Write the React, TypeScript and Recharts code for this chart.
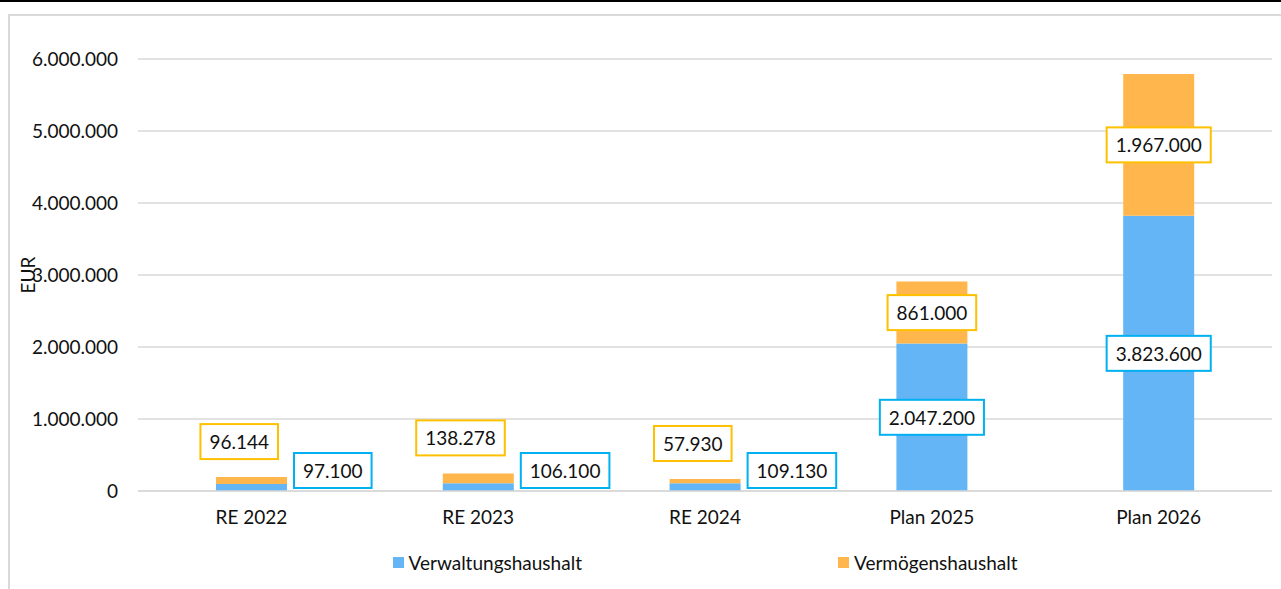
import React from 'react';
import { BarChart, Bar, XAxis, YAxis, CartesianGrid, LabelList } from 'recharts';

const categories = ['RE 2022', 'RE 2023', 'RE 2024', 'Plan 2025', 'Plan 2026'];
const verwaltungshaushalt = [97100, 106100, 109130, 2047200, 3823600];
const vermoegenshaushalt = [96144, 138278, 57930, 861000, 1967000];
const yTicks = [0, 1000000, 2000000, 3000000, 4000000, 5000000, 6000000];

const seriesNames = ['Verwaltungshaushalt', 'Vermögenshaushalt'];
const BLUE = '#64B5F6';
const ORANGE = '#FFB74D';
const BLUE_BORDER = '#00B0F0';
const ORANGE_BORDER = '#FFC000';
const FONT = 'Lato, "Open Sans", sans-serif';
const FS = 19;
const FW = 400;

const data = categories.map((c, i) => ({
  name: c,
  v: verwaltungshaushalt[i],
  m: vermoegenshaushalt[i],
}));

const fmt = (n: number) => String(Math.round(n)).replace(/\B(?=(\d{3})+(?!\d))/g, '.');

let ctx: CanvasRenderingContext2D | null = null;
function measure(t: string) {
  if (!ctx) {
    const c = document.createElement('canvas');
    ctx = c.getContext('2d');
  }
  if (!ctx) return t.length * FS * 0.55;
  ctx.font = `${FW} ${FS}px Lato`;
  return ctx.measureText(t).width;
}

function Box({ cx, cy, text, border }: { cx: number; cy: number; text: string; border: string }) {
  const w = measure(text) + 18;
  const h = 35;
  return (
    <g>
      <rect x={cx - w / 2} y={cy - h / 2} width={w} height={h} fill="#fff" stroke={border} strokeWidth={2} />
      <text x={cx} y={cy} textAnchor="middle" dominantBaseline="central" fontFamily={FONT} fontSize={FS} fontWeight={FW} fill="#111">
        {text}
      </text>
    </g>
  );
}

const blueLabel = (props: any) => {
  const { x, y, width, height, value } = props;
  const text = fmt(Number(value));
  if (height > 40) {
    return <Box cx={x + width / 2} cy={y + height / 2} text={text} border={BLUE_BORDER} />;
  }
  const w = measure(text) + 18;
  const left = x + width + 7;
  const bottom = y + height - 3;
  return <Box cx={left + w / 2} cy={bottom - 17.5} text={text} border={BLUE_BORDER} />;
};

const orangeLabel = (props: any) => {
  const { x, y, width, height, value } = props;
  const text = fmt(Number(value));
  if (height > 40) {
    return <Box cx={x + width / 2} cy={y + height / 2} text={text} border={ORANGE_BORDER} />;
  }
  const w = measure(text) + 18;
  const right = x + width - 9;
  const bottom = y - 18;
  return <Box cx={right - w / 2} cy={bottom - 17.5} text={text} border={ORANGE_BORDER} />;
};

const yLabel = (props: any) => {
  const vb = props.viewBox || { x: 0, y: 59, width: 138, height: 432 };
  const cy = vb.y + vb.height / 2;
  const cx = vb.x + 27;
  return (
    <text
      x={cx}
      y={cy}
      textAnchor="middle"
      dominantBaseline="central"
      transform={`rotate(-90, ${cx}, ${cy})`}
      fontFamily={FONT}
      fontSize={FS}
      fontWeight={FW}
      fill="#111"
    >
      EUR
    </text>
  );
};

export default function App() {
  const legendColors = [BLUE, ORANGE];
  return (
    <div style={{ position: 'fixed', left: 0, top: 0, width: 1281, height: 589, overflow: 'hidden', background: '#fff' }}>
      <div style={{ position: 'absolute', left: 0, top: 0, width: 1281, height: 2, background: '#000' }} />
      <div
        style={{
          position: 'absolute',
          left: 8,
          top: 14,
          width: 1400,
          height: 800,
          border: '2px solid #d9d9d9',
          boxSizing: 'border-box',
        }}
      />
      <div style={{ position: 'absolute', left: 0, top: 0 }}>
        <BarChart width={1281} height={589} data={data} margin={{ top: 59, right: 9, left: 0, bottom: 68 }} barSize={71}>
          <CartesianGrid vertical={false} stroke="#d9d9d9" strokeWidth={1.5} />
          <XAxis
            dataKey="name"
            height={30}
            tickLine={false}
            tickSize={0}
            tickMargin={20}
            axisLine={{ stroke: '#d9d9d9', strokeWidth: 1.5 }}
            tick={{ fill: '#111', fontFamily: FONT, fontSize: FS, fontWeight: FW }}
          />
          <YAxis
            width={138}
            domain={[0, 6000000]}
            ticks={yTicks}
            interval={0}
            tickFormatter={fmt}
            axisLine={false}
            tickLine={false}
            tickSize={0}
            tickMargin={20}
            tick={{ fill: '#111', fontFamily: FONT, fontSize: FS, fontWeight: FW }}
            label={yLabel}
          />
          <Bar dataKey="v" name={seriesNames[0]} stackId="a" fill={BLUE} isAnimationActive={false}>
            <LabelList dataKey="v" content={blueLabel} />
          </Bar>
          <Bar dataKey="m" name={seriesNames[1]} stackId="a" fill={ORANGE} isAnimationActive={false}>
            <LabelList dataKey="m" content={orangeLabel} />
          </Bar>
        </BarChart>
      </div>
      <div
        style={{
          position: 'absolute',
          left: 138,
          width: 1134,
          top: 549,
          height: 26,
          display: 'flex',
          justifyContent: 'center',
          alignItems: 'center',
          gap: 256,
          fontFamily: FONT,
          fontSize: FS,
          fontWeight: FW,
          color: '#111',
        }}
      >
        {seriesNames.map((n, i) => (
          <div key={n} style={{ display: 'flex', alignItems: 'center' }}>
            <div style={{ width: 11, height: 11, background: legendColors[i], marginRight: 5 }} />
            <span>{n}</span>
          </div>
        ))}
      </div>
    </div>
  );
}
